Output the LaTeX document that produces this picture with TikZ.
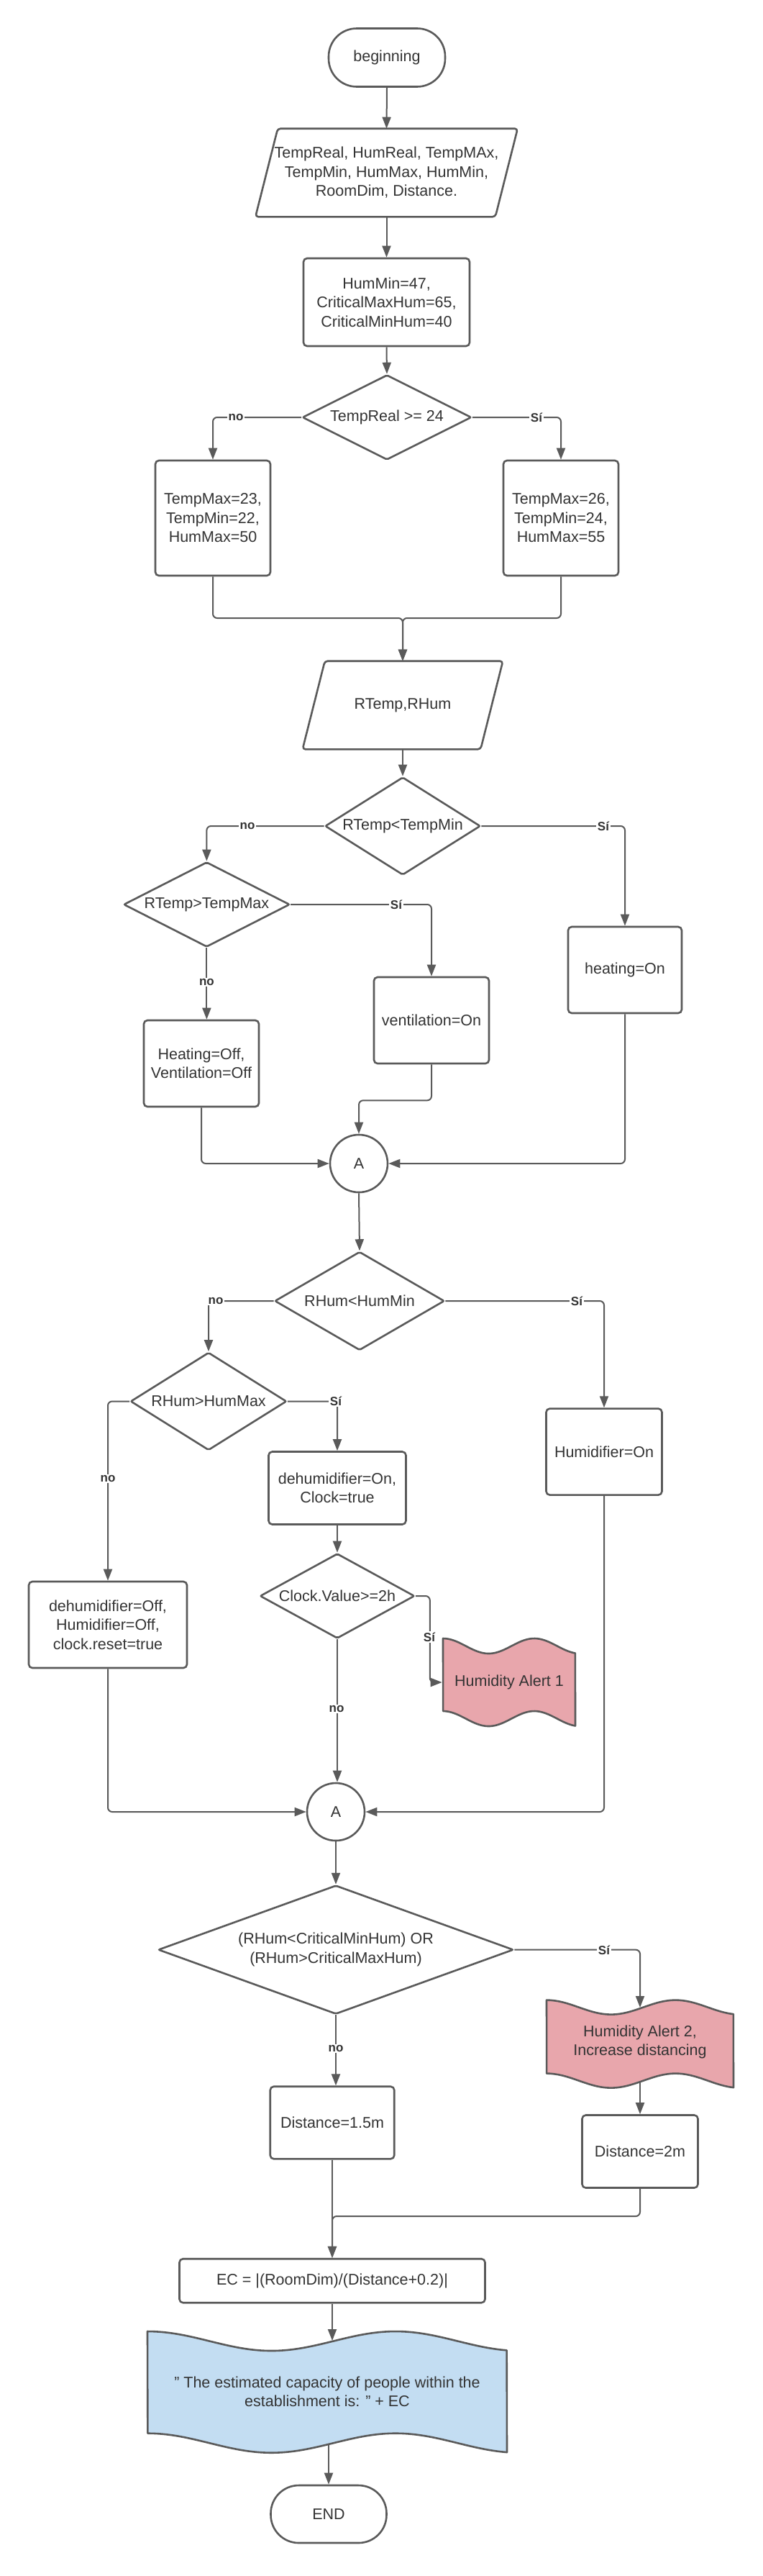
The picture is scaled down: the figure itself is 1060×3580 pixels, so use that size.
\documentclass[tikz,border=0pt]{standalone}
\usepackage{fontspec}
\setmainfont{Liberation Sans}
\usetikzlibrary{arrows.meta,shapes.geometric,calc}
\definecolor{linec}{HTML}{5A5A5A}
\definecolor{textc}{HTML}{333333}
\definecolor{pinkf}{HTML}{E8A6AC}
\definecolor{bluef}{HTML}{C3DDF2}
\tikzset{
  base/.style={draw=linec, line width=2.6bp, text=textc, align=center,
    font=\fontsize{21.5bp}{26.5bp}\selectfont, inner sep=0pt},
  procbox/.style={base, rectangle, rounded corners=5bp},
  termbox/.style={base, rectangle, rounded corners=39bp},
  decis/.style={base, diamond, rounded corners=2bp},
  conncirc/.style={base, circle, minimum size=80bp},
  textonly/.style={base, draw=none, rectangle},
  shapeline/.style={draw=linec, line width=2.6bp, rounded corners=4bp, line join=round},
  conn/.style={draw=linec, line width=2bp, rounded corners=6bp, -{Triangle[length=16bp,width=12bp]}},
  lab/.style={fill=white, text=textc, font=\bfseries\fontsize{17bp}{20bp}\selectfont, inner sep=1.5bp},
}
\newcommand{\tapeshape}[6]{%
  \filldraw[shapeline, rounded corners=0pt, fill=#6]
    plot[domain=0:1, samples=60, smooth] ({#1+\x*#2},{#3+#5/2*(1-cos(\x*521.74))})
    -- plot[domain=1:0, samples=60, smooth] ({#1+\x*#2},{#3+#4+#5/2*(1-cos(\x*521.74))})
    -- cycle;}
\begin{document}
\begin{tikzpicture}[x=1bp, y=-1bp]
\path[use as bounding box, fill=white] (0,0) rectangle (1060,3580);

% ---------- nodes ----------
\node[termbox, minimum width=162bp, minimum height=81bp] (start) at (538,80) {beginning};

\node[textonly, minimum width=331bp, minimum height=120bp] (in1) at (537.5,240)
  {TempReal, HumReal, TempMAx,\\TempMin, HumMax, HumMin,\\RoomDim, Distance.};
\draw[shapeline] ($(in1.north west)+(15.5,0)$) -- ($(in1.north east)+(15.5,0)$)
  -- ($(in1.south east)+(-15.5,0)$) -- ($(in1.south west)+(-15.5,0)$) -- cycle;

\node[procbox, minimum width=231bp, minimum height=122bp] (b1) at (537.5,420)
  {HumMin=47,\\CriticalMaxHum=65,\\CriticalMinHum=40};

\node[decis, minimum width=235bp, minimum height=118bp, shape aspect=2] (d1) at (538,580) {TempReal >= 24};

\node[procbox, minimum width=160bp, minimum height=160bp] (bL) at (296,720) {TempMax=23,\\TempMin=22,\\HumMax=50};
\node[procbox, minimum width=160bp, minimum height=160bp] (bR) at (780,720) {TempMax=26,\\TempMin=24,\\HumMax=55};

\node[textonly, minimum width=245bp, minimum height=120bp] (in2) at (560,980) {RTemp,RHum};
\draw[shapeline] ($(in2.north west)+(15.5,0)$) -- ($(in2.north east)+(15.5,0)$)
  -- ($(in2.south east)+(-15.5,0)$) -- ($(in2.south west)+(-15.5,0)$) -- cycle;

\node[decis, minimum width=216bp, minimum height=136bp, shape aspect=1.59] (d2) at (560,1148) {RTemp<TempMin};
\node[decis, minimum width=231bp, minimum height=118bp, shape aspect=1.96] (d3) at (287.4,1257) {RTemp>TempMax};

\node[procbox, minimum width=158bp, minimum height=120bp] (heat) at (869,1348) {heating=On};
\node[procbox, minimum width=160bp, minimum height=120bp] (vent) at (600,1418) {ventilation=On};
\node[procbox, minimum width=160bp, minimum height=120bp] (hoff) at (280,1478) {Heating=Off,\\Ventilation=Off};

\node[conncirc] (cA) at (499,1617) {A};

\node[decis, minimum width=236bp, minimum height=137bp, shape aspect=1.72] (d4) at (500,1808) {RHum<HumMin};
\node[decis, minimum width=217bp, minimum height=136bp, shape aspect=1.6] (d5) at (290,1947.5) {RHum>HumMax};

\node[procbox, minimum width=161bp, minimum height=120bp] (humon) at (840,2017.6) {Humidifier=On};
\node[procbox, minimum width=191bp, minimum height=101bp] (dehon) at (469,2068) {dehumidifier=On,\\Clock=true};

\node[decis, minimum width=215bp, minimum height=118bp, shape aspect=1.82] (d6) at (469,2218) {Clock.Value>=2h};

\tapeshape{616}{184}{2277}{101}{21}{pinkf}
\node[textonly, minimum width=184bp, minimum height=122bp] (a1) at (708,2338) {Humidity Alert 1};

\node[procbox, minimum width=220bp, minimum height=120bp] (doff) at (150,2258)
  {dehumidifier=Off,\\Humidifier=Off,\\clock.reset=true};

\node[conncirc] (cA2) at (467,2518) {A};

\node[decis, minimum width=494bp, minimum height=179bp, shape aspect=2.76] (d7) at (467,2709.6)
  {(RHum<CriticalMinHum) OR\\(RHum>CriticalMaxHum)};

\tapeshape{760}{260}{2779.6}{102}{20}{pinkf}
\node[textonly, minimum width=260bp, minimum height=122bp] (a2) at (890,2838) {Humidity Alert 2,\\Increase distancing};

\node[procbox, minimum width=172.5bp, minimum height=100.6bp] (d15) at (462,2950) {Distance=1.5m};
\node[procbox, minimum width=161bp, minimum height=101bp] (d2m) at (890,2990) {Distance=2m};

\node[procbox, minimum width=425bp, minimum height=61bp] (ec) at (462,3169.7) {EC = |(RoomDim)/(Distance+0.2)|};

\tapeshape{205}{500}{3240}{141.7}{27}{bluef}
\node[textonly, minimum width=500bp, minimum height=150bp] (out) at (455,3324)
  {" The estimated capacity of people within the\\establishment is: " + EC};

\node[termbox, minimum width=161bp, minimum height=80bp] (endn) at (457,3494) {END};

% free ends on the wavy shapes and merge points
\coordinate (mrg) at (560,859);
\coordinate (a2top) at (890,2790);
\coordinate (a2bot) at (890,2893);
\coordinate (jn) at (462,3080);
\coordinate (otop) at (462,3253);
\coordinate (obot) at (457,3396);

% ---------- connectors ----------
\draw[conn] (start.south) -- (in1.north);
\draw[conn] (in1.south) -- (b1.north);
\draw[conn] (b1.south) -- (d1.north);
\draw[conn] (d1.west) -| (bL.north);
\draw[conn] (d1.east) -| (bR.north);
\draw[conn] (bL.south) |- (mrg) -- (in2.north);
\draw[conn] (bR.south) |- (mrg) -- (in2.north);
\draw[conn] (in2.south) -- (d2.north);
\draw[conn] (d2.west) -| (d3.north);
\draw[conn] (d2.east) -| (heat.north);
\draw[conn] (d3.east) -| (vent.north);
\draw[conn] (d3.south) -- (d3.south |- hoff.north);
\draw[conn] (hoff.south) |- (cA.west);
\draw[conn] (vent.south) -- ++(0,50) -| (cA.north);
\draw[conn] (heat.south) |- (cA.east);
\draw[conn] (cA.south) -- (d4.north);
\draw[conn] (d4.west) -| (d5.north);
\draw[conn] (d4.east) -| (humon.north);
\draw[conn] (d5.east) -| (dehon.north);
\draw[conn] (d5.west) -| (doff.north);
\draw[conn] (dehon.south) -- (d6.north);
\draw[conn] (d6.east) -- ++(20,0) |- (a1.west);
\draw[conn] (d6.south) -- (d6.south |- cA2.north);
\draw[conn] (doff.south) |- (cA2.west);
\draw[conn] (humon.south) |- (cA2.east);
\draw[conn] (cA2.south) -- (d7.north);
\draw[conn] (d7.east) -| (a2top);
\draw[conn] (a2bot) -- (d2m.north);
\draw[conn] (d7.south) -- (d7.south |- d15.north);
\draw[conn] (d15.south) -- (ec.north);
\draw[conn] (d2m.south) |- (jn) -- (ec.north);
\draw[conn] (ec.south) -- (otop);
\draw[conn] (obot) -- (endn.north);

% ---------- labels ----------
\node[lab] (l1) at (328,580) {no};
\node[lab] (l2) at (746,580) {Sí};
\node[lab] (l3) at (344,1148) {no};
\node[lab] (l4) at (839,1148) {Sí};
\node[lab] (l5) at (551,1257) {Sí};
\node[lab] (l6) at (287.4,1365) {no};
\node[lab] (l7) at (300,1808) {no};
\node[lab] (l8) at (802,1808) {Sí};
\node[lab] (l9) at (467,1947) {Sí};
\node[lab] (l10) at (150,2055) {no};
\node[lab] (l11) at (597,2275) {Sí};
\node[lab] (l12) at (468,2375) {no};
\node[lab] (l13) at (840,2710) {Sí};
\node[lab] (l14) at (467,2847) {no};
\end{tikzpicture}
\end{document}
